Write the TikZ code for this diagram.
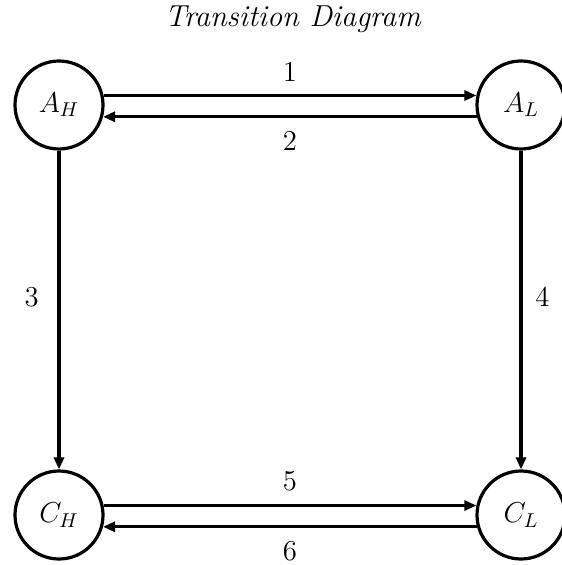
\documentclass[tikz,border=0pt]{standalone}
\usepackage{amsmath}
\usetikzlibrary{arrows.meta,positioning}

\begin{document}
\begin{tikzpicture}[x=0.5pt,y=-0.5pt,font=\Large,on grid,
  state/.style={circle,draw,line width=1.6pt,minimum size=44pt,inner sep=0pt},
  trans/.style={-{Triangle[length=6pt,width=5pt]},line width=1.6pt}]
  \useasboundingbox (0,0) rectangle (561,565);
  \node (title) at (293,19) {\fontsize{15.2}{18}\selectfont\textit{Transition Diagram}};
  \node[state] (AH) at (59,105) {$A_H$};
  \node[state,right=231pt of AH] (AL) {$A_L$};
  \node[state,below=205pt of AH] (CH) {$C_H$};
  \node[state,below=205pt of AL] (CL) {$C_L$};
  % top pair
  \draw[trans] (AH.12) -- node[above=3pt] {1} (AL.168);
  \draw[trans] (AL.195) -- node[below=3pt] {2} (AH.-15);
  % down the sides
  \draw[trans] (AH) -- node[pos=0.46,left=6pt] {3} (CH);
  \draw[trans] (AL) -- node[pos=0.46,right=3pt] {4} (CL);
  % bottom pair
  \draw[trans] (CH.12) -- node[above=3pt] {5} (CL.168);
  \draw[trans] (CL.195) -- node[below=3pt] {6} (CH.-15);
\end{tikzpicture}
\end{document}
